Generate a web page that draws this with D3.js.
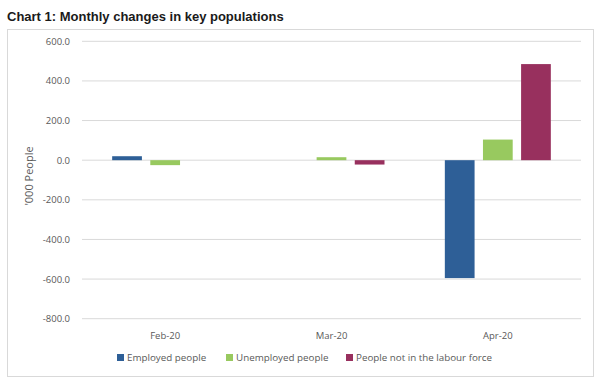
<!DOCTYPE html>
<html><head><meta charset="utf-8">
<script src="https://cdn.jsdelivr.net/npm/d3@7"></script>
<style>body{margin:0;background:#fff;}svg{display:block;}</style>
</head><body>
<svg id="c" width="602" height="384"></svg>
<script>
const categories = ["Feb-20", "Mar-20", "Apr-20"];
const seriesNames = ["Employed people", "Unemployed people", "People not in the labour force"];
const employed = [20.0, 0.0, -595.0];
const unemployed = [-25.0, 15.0, 104.0];
const notInLabourForce = [0.0, -22.0, 485.0];
const yTicks = [600, 400, 200, 0, -200, -400, -600, -800];
const colors = ["#2e5f97", "#98c95f", "#98305e"];

const series = [employed, unemployed, notInLabourForce];
const svg = d3.select("#c");
const plot = {left: 82, right: 581, top: 41.3, bottom: 318.7};

svg.append("text").attr("x", 7).attr("y", 21).text("Chart 1: Monthly changes in key populations")
  .attr("font-family", "Liberation Sans, Arial, sans-serif").attr("font-weight", "bold")
  .attr("font-size", 13).attr("fill", "#1a1a1a");

svg.append("rect").attr("x", 7.5).attr("y", 29.5).attr("width", 586).attr("height", 347)
  .attr("fill", "#fff").attr("stroke", "#d9d9d9");

const y = d3.scaleLinear().domain([-800, 600]).range([plot.bottom, plot.top]);
const x0 = d3.scaleBand().domain(categories).range([plot.left, plot.right]);
const x1 = d3.scaleBand().domain(d3.range(3)).range([x0.bandwidth()/2 - 53, x0.bandwidth()/2 + 53]).paddingInner(0.22);

const g = svg.append("g");
g.selectAll("line.grid").data(yTicks).join("line")
  .attr("x1", plot.left).attr("x2", plot.right)
  .attr("y1", d => y(d)).attr("y2", d => y(d))
  .attr("stroke", "#d9d9d9").attr("stroke-width", 1);

const fmt = d => d3.format(".1f")(d).replace("\u2212", "-");
const yAxis = d3.axisLeft(y).tickValues(yTicks).tickFormat(fmt).tickSize(0).tickPadding(12);
const ya = svg.append("g").attr("transform", `translate(${plot.left},0)`).call(yAxis);
ya.select(".domain").remove();
ya.selectAll("text").attr("font-family", "Open Sans, sans-serif").attr("font-size", 9.5).attr("fill", "#595959");

series.forEach((s, si) => {
  g.selectAll("rect.s" + si).data(s).join("rect")
    .attr("x", (d, i) => x0(categories[i]) + x1(si))
    .attr("width", x1.bandwidth())
    .attr("y", d => y(Math.max(0, d)))
    .attr("height", d => Math.abs(y(d) - y(0)))
    .attr("fill", colors[si]);
});

const xAxis = d3.axisBottom(x0).tickSize(0).tickPadding(0);
const xa = svg.append("g").attr("transform", `translate(0,${plot.bottom + 14})`).call(xAxis);
xa.select(".domain").remove();
xa.selectAll("text").attr("font-family", "Open Sans, sans-serif").attr("font-size", 9.5).attr("fill", "#595959");

svg.append("text").attr("transform", "translate(33,176) rotate(-90)").attr("text-anchor", "middle")
  .text("'000 People").attr("font-family", "Open Sans, sans-serif").attr("font-size", 11).attr("fill", "#595959");

const legendX = [117, 226, 346];
const lg = svg.append("g");
seriesNames.forEach((n, i) => {
  lg.append("rect").attr("x", legendX[i]).attr("y", 354).attr("width", 7).attr("height", 7).attr("fill", colors[i]);
  lg.append("text").attr("x", legendX[i] + 10).attr("y", 361).text(n)
    .attr("font-family", "Open Sans, sans-serif").attr("font-size", 9.8).attr("fill", "#595959");
});
</script>
</body></html>
